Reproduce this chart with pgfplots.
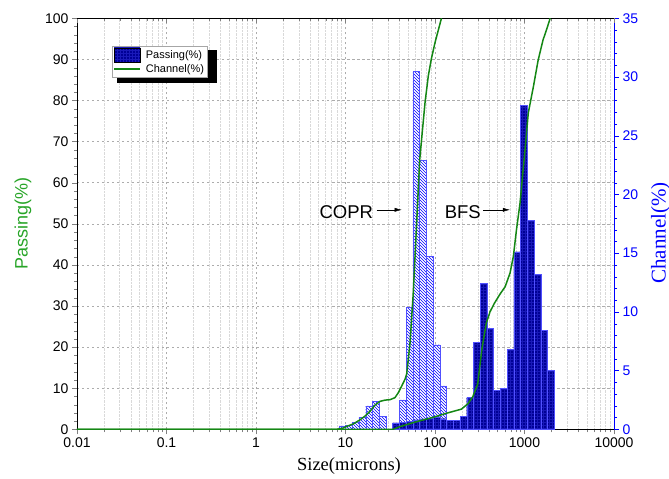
\documentclass[border=0pt]{standalone}
\usepackage{fontspec}
\setmainfont{Liberation Sans}
\newfontfamily\serifface{Liberation Serif}
\usepackage{pgfplots}
\pgfplotsset{compat=1.18}
\usetikzlibrary{patterns,calc,arrows.meta}
\definecolor{passgreen}{RGB}{20,135,20}
\definecolor{labgreen}{RGB}{40,165,40}
\definecolor{chanblue}{RGB}{0,0,255}
\definecolor{barnavy}{RGB}{0,0,150}
\definecolor{hatchblue}{RGB}{80,80,255}
\definecolor{gridblue}{RGB}{25,25,185}

\pgfplotsset{
  psdaxis/.style={
    scale only axis, width=537pt, height=411pt,
    xmin=0.01, xmax=10000,
    tick label style={font=\fontsize{14}{16}\selectfont},
    major tick length=5pt, minor tick length=3pt,
    tick align=outside,
    xtick={0.01,0.1,1,10,100,1000,10000},
    minor xtick={0.02,0.03,0.04,0.05,0.06,0.07,0.08,0.09,
      0.2,0.3,0.4,0.5,0.6,0.7,0.8,0.9,2,3,4,5,6,7,8,9,
      20,30,40,50,60,70,80,90,200,300,400,500,600,700,800,900,
      2000,3000,4000,5000,6000,7000,8000,9000},
  }
}

\begin{document}
\begin{tikzpicture}
% left axis, grid
\begin{semilogxaxis}[psdaxis, name=main,
  /pgf/number format/assume math mode=true,
  ymin=0, ymax=100, ytick={0,10,...,100}, minor y tick num=4,
  xticklabels={0.01,0.1,1,10,100,1000,10000},
  axis x line*=bottom, axis y line*=left,
  xmajorgrids, xminorgrids, ymajorgrids,
  major grid style={gray!65, dash pattern=on 2.5pt off 2.5pt},
  minor grid style={gray!30, densely dotted},
  every axis y label/.style={at={(axis description cs:-0.1006,0.5)}, rotate=90, anchor=center, color=labgreen},
  every axis x label/.style={at={(axis description cs:0.5065,-0.0893)}, anchor=center},
  xlabel={\serifface\fontsize{18.5}{20}\selectfont Size(microns)},
  ylabel={\fontsize{18}{20}\selectfont Passing(\%)},
]
\end{semilogxaxis}

% right axis, histograms
\begin{semilogxaxis}[psdaxis,
  /pgf/number format/assume math mode=true,
  ymin=0, ymax=35, ytick={0,5,...,35}, minor y tick num=4,
  axis y line*=right, axis x line=none,
  y axis line style={chanblue, line width=1pt},
  y tick style={chanblue},
  yticklabel style={chanblue},
  every axis y label/.style={at={(axis description cs:1.0866,0.478)}, rotate=90, anchor=center, color=chanblue},
  ylabel={\serifface\fontsize{21}{22}\selectfont Channel(\%)},
]
% COPR
\addplot[ybar interval, draw=hatchblue, fill=white, postaction={pattern=north west lines, pattern color=chanblue}]
  coordinates {(8.409,0.3) (10,0.35) (11.892,0.6) (14.142,1.0) (16.818,2.0) (20,2.4) (23.784,1.1) (28.284,0)};
\addplot[ybar interval, draw=hatchblue, fill=white, postaction={pattern=north west lines, pattern color=chanblue}]
  coordinates {(40,2.5) (47.568,10.4) (56.569,30.5) (67.272,22.9) (80,14.7) (95.137,7.2) (113.137,3.7) (134.543,0)};
% BFS
\addplot[ybar interval, draw=hatchblue, fill=barnavy, postaction={pattern=grid, pattern color=gridblue}]
  coordinates {(33.636,0.55) (40,0.6) (47.568,0.7) (56.569,0.8) (67.272,0.88) (80,0.95) (95.137,1.05)
    (113.137,0.9) (134.543,0.78) (160,0.78) (190.27,1.1) (226.27,2.7) (269.09,7.4) (320,12.4)
    (380.55,8.6) (452.55,3.3) (538.17,3.5) (640,6.8) (761.1,15.1) (905.1,27.6) (1076.3,17.8)
    (1280,13.2) (1522.2,8.4) (1810.2,5.0) (2152.7,0)};
\end{semilogxaxis}

% cumulative curves, top ticks, legend
\begin{semilogxaxis}[psdaxis,
  ymin=0, ymax=100,
  axis x line*=top, axis y line=none,
  tick align=inside, xticklabels={},
  legend style={at={(axis description cs:0.0646,0.9326)}, anchor=north west,
    draw=gray!70, fill=white, font=\fontsize{11}{13}\selectfont,
    inner sep=1.5pt, row sep=0pt, column sep=3pt},
  legend cell align=left,
]
\addlegendimage{legend image code/.code={\fill[barnavy] (0pt,-7pt) rectangle (26pt,7pt);
  \fill[pattern=grid, pattern color=gridblue] (0pt,-7pt) rectangle (26pt,7pt);}}
\addlegendentry{Passing(\%)}
\addlegendimage{legend image code/.code={\draw[passgreen, line width=1.5pt] (0pt,0pt) -- (26pt,0pt);}}
\addlegendentry{Channel(\%)}
% legend shadow
\fill[black] (axis description cs:0.0745,0.9217) rectangle (axis description cs:0.2607,0.8426);
% COPR passing
\addplot[passgreen, line width=1.5pt, forget plot] coordinates {
  (0.01,0) (8,0) (9.4,0.3) (10.3,0.7) (12.2,1.3) (14.5,2.3) (16.5,3.2) (18.8,4.4) (21.4,5.9)
  (24.3,6.8) (27.6,7.1) (31.4,7.2) (35.7,7.7) (38.9,8.9) (42.4,10.5) (46.3,12.2) (48.3,13.5)
  (52.6,21) (57.1,33) (62,49) (67.4,65.5) (73.3,74) (77.4,79.5) (84.2,86) (90.8,90) (99.8,94) (118,100)};
% BFS passing
\addplot[passgreen, line width=1.5pt, forget plot] coordinates {
  (0.01,0) (34,0) (40,0.6) (62,1.85) (95,2.9) (134,3.9) (197,4.9) (233,6.2) (264,7.9) (300,11)
  (333,19.3) (374,25.8) (412,28.6) (462,30.7) (533,32.9) (608,34.7) (689,38) (750,42) (813,48.5)
  (891,55) (1014,68) (1103,77) (1258,83.4) (1420,89.8) (1610,94.7) (1810,98) (1935,100)};
% labels
\node[font=\fontsize{18.5}{20}\selectfont] at (axis cs:10.2,52.9) {COPR};
\draw[-{Latex[length=7pt,width=4pt]}] (axis cs:22.3,53.4) -- (axis cs:42.5,53.4);
\node[font=\fontsize{18.5}{20}\selectfont] at (axis cs:204.6,52.9) {BFS};
\draw[-{Latex[length=7pt,width=4pt]}] (axis cs:346.7,53.4) -- (axis cs:688,53.4);
\end{semilogxaxis}

\pgfresetboundingbox
\path ($(main.south west)+(-77pt,-49.7pt)$) rectangle ($(main.north east)+(55pt,18.3pt)$);
\end{tikzpicture}
\end{document}
